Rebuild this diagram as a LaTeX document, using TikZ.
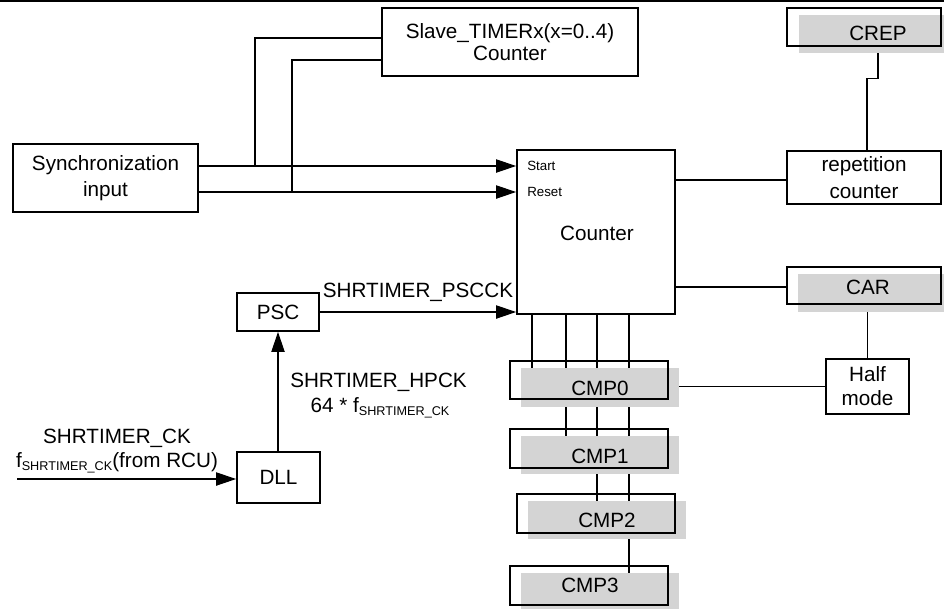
\documentclass[tikz,border=0pt]{standalone}
\usepackage{fontspec}
\setmainfont{Liberation Sans}
\usetikzlibrary{arrows.meta,calc}
\definecolor{regfill}{RGB}{212,212,212}
\newcommand\fsub{f\raisebox{-2.5pt}{\fontsize{9.5}{10}\selectfont SHRTIMER\_CK}}
\tikzset{
  x=0.75pt,y=-0.75pt,
  wh/.style 2 args={minimum width=#1*0.75pt,minimum height=#2*0.75pt},
  blk/.style={draw,line width=1.4pt,rectangle,inner sep=0pt,align=center,
    font=\fontsize{15.5}{19.5}\selectfont},
  regbox/.style={fill=regfill,draw=none,inner sep=0pt},
  framebox/.style={draw,line width=1.4pt,inner sep=0pt},
  txt/.style={inner sep=0pt,align=center,font=\fontsize{15.5}{19.5}\selectfont},
  small/.style={inner sep=0pt,anchor=west,font=\fontsize{10}{12}\selectfont},
  wire/.style={line width=0.8pt},
  arr/.style={wire,-{Triangle[length=15pt,width=10pt]}}
}
\begin{document}
\begin{tikzpicture}
\useasboundingbox (0,0) rectangle (944,608);
\draw[line width=1.5pt] (0,1) -- (944,1);

% blocks
\node[blk,wh={185}{68}] (sync) at (105.5,178) {Synchronization\\input};
\node[blk,wh={256}{68},font=\fontsize{15.5}{17}\selectfont] (slave) at (510,42) {Slave\_TIMERx(x=0..4)\\Counter};
\node[blk,wh={158}{164}] (counter) at (596,232) {};
\node[txt] (countert) at (597,233) {Counter};
\node[small] (startt) at (527,166) {Start};
\node[small] (resett) at (527,192) {Reset};
\node[blk,wh={82}{38}] (psc) at (278,312) {PSC};
\node[blk,wh={83}{51}] (dll) at (278.5,477.5) {DLL};

% right side
\node[regbox,wh={158}{38}] (crep) at (878,34) {};
\node[framebox,wh={154}{38}] (crepf) at (864,27) {};
\node[txt] (crept) at (878,33) {CREP};
\node[blk,wh={154}{53},font=\fontsize{15.5}{20}\selectfont] (rep) at (864,177.5) {repetition\\counter};
\node[regbox,wh={159}{38}] (car) at (877.5,293) {};
\node[framebox,wh={154}{37}] (carf) at (864,285.5) {};
\node[txt] (cart) at (868,287) {CAR};
\node[blk,wh={83}{55},font=\fontsize{15.5}{18}\selectfont] (half) at (867.5,386.5) {Half\\mode};

% CMP registers
\node[regbox,wh={158}{39}] (cmp0) at (600,387.5) {};
\node[framebox,wh={158}{38}] (cmp0f) at (589,380) {};
\node[txt] (cmp0t) at (600,388) {CMP0};
\node[regbox,wh={158}{38}] (cmp1) at (600,455) {};
\node[framebox,wh={158}{39}] (cmp1f) at (589,448.5) {};
\node[txt] (cmp1t) at (600,456) {CMP1};
\node[regbox,wh={158}{38}] (cmp2) at (607,520) {};
\node[framebox,wh={158}{39}] (cmp2f) at (596,513.5) {};
\node[txt] (cmp2t) at (607,520) {CMP2};
\node[regbox,wh={158}{40}] (cmp3) at (600,593) {};
\node[framebox,wh={158}{39}] (cmp3f) at (589,585.5) {};
\node[txt] (cmp3t) at (590,585) {CMP3};

% labels
\node[txt] (pscck) at (418,292) {SHRTIMER\_PSCCK};
\node[txt] (hpck) at (378.5,382) {SHRTIMER\_HPCK};
\node[txt] (hpckf) at (380,408) {64 * \fsub};
\node[txt] (ckl) at (117,438) {SHRTIMER\_CK};
\node[txt] (ckf) at (117,463) {\fsub(from RCU)};

% helper coordinates
\coordinate (ys) at (0,166);
\coordinate (yr) at (0,192);
\coordinate (xs) at (255,0);
\coordinate (xr) at (292,0);
\coordinate (ys2) at (0,38);
\coordinate (yr2) at (0,60);
\coordinate (inp) at (17,479);
\coordinate (ycr) at (0,180);
\coordinate (yca) at (0,287);
\foreach \i/\x in {a/532,b/566,c/597,d/629} \coordinate (col\i) at (\x,0);

% connectors
\draw[arr] (sync.east |- ys) -- (counter.west |- ys);
\draw[arr] (sync.east |- yr) -- (counter.west |- yr);
\draw[wire] (xs |- ys) -- (xs |- ys2) -- (slave.west |- ys2);
\draw[wire] (xr |- yr) -- (xr |- yr2) -- (slave.west |- yr2);
\draw[arr] (psc.east) -- (counter.west |- psc.east);
\draw[arr] (dll.north -| psc.south) -- (psc.south);
\draw[arr] (inp) -- (dll.west |- inp);
\draw[wire] (counter.east |- ycr) -- (rep.west |- ycr);
\draw[wire] (counter.east |- yca) -- (carf.west |- yca);
\draw[wire] (crep.south) -- ++(0,25) -| ($(rep.north)+(3,0)$);
\draw[wire] (car.south -| half.north) -- (half.north);
\draw[wire] (cmp0.east |- half.west) -- (half.west);
\foreach \i in {a,b,c,d} \draw[wire] (counter.south -| col\i) -- (cmp0.north -| col\i);
\foreach \i in {b,c,d} \draw[wire] (cmp0.south -| col\i) -- (cmp1.north -| col\i);
\foreach \i in {c,d} \draw[wire] (cmp1.south -| col\i) -- (cmp2.north -| col\i);
\draw[wire] (cmp2.south -| cold) -- (cmp3.north -| cold);
\end{tikzpicture}
\end{document}
